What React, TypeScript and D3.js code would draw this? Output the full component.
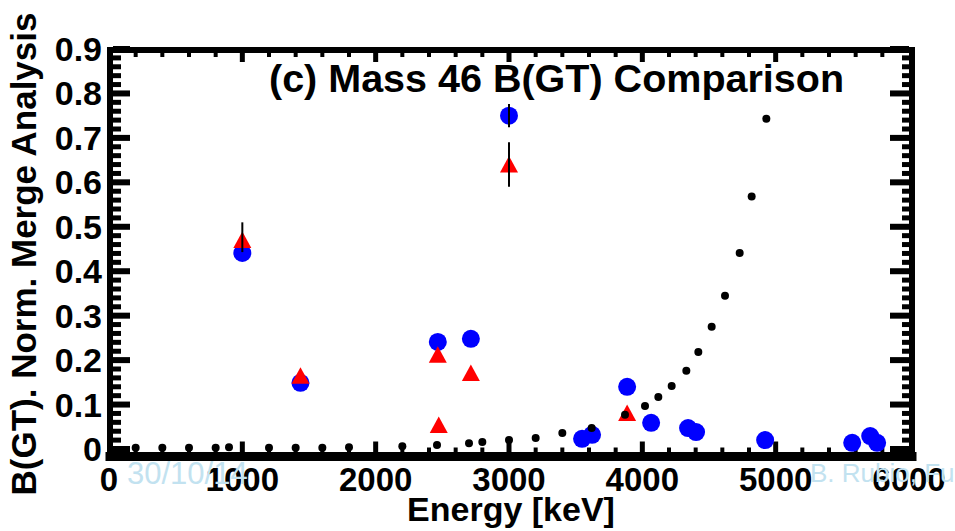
import React, { useEffect, useRef } from "react";
import * as d3 from "d3";

// merge analysis (blue circles)
const circleEnergy = [1000, 1436, 2466, 2714, 3000, 3548, 3623, 3886, 4066, 4343, 4403, 4921, 5574, 5709, 5761];
const circleBgt = [0.441, 0.149, 0.241, 0.248, 0.75, 0.023, 0.032, 0.14, 0.059, 0.047, 0.038, 0.02, 0.014, 0.029, 0.014];

// comparison set (red triangles)
const triEnergy = [1000, 1436, 2466, 2473, 2714, 3000, 3886];
const triBgt = [0.47, 0.165, 0.212, 0.054, 0.171, 0.64, 0.081];

// vertical error bars
const errEnergy = [1000, 3000, 3000];
const errLow = [0.443, 0.59, 0.724];
const errHigh = [0.51, 0.69, 0.776];

// small black dots
const dotEnergy = [200, 400, 600, 800, 900, 1200, 1400, 1600, 1800, 2200, 2460, 2700, 2800, 3000, 3200, 3400, 3620, 3870, 4020, 4120, 4220, 4330, 4420, 4520, 4620, 4730, 4820, 4930];
const dotBgt = [0.003, 0.003, 0.003, 0.003, 0.004, 0.003, 0.003, 0.003, 0.004, 0.006, 0.009, 0.013, 0.016, 0.02, 0.025, 0.036, 0.047, 0.077, 0.097, 0.117, 0.142, 0.176, 0.218, 0.275, 0.345, 0.441, 0.568, 0.743];

const xTickValues = [0, 1000, 2000, 3000, 4000, 5000, 6000];
const xTickLabels = ["0", "1000", "2000", "3000", "4000", "5000", "6000"];
const yTickValues = [0, 0.1, 0.2, 0.3, 0.4, 0.5, 0.6, 0.7, 0.8, 0.9];
const yTickLabels = ["0", "0.1", "0.2", "0.3", "0.4", "0.5", "0.6", "0.7", "0.8", "0.9"];

const title = "(c) Mass 46 B(GT) Comparison";
const xTitle = "Energy [keV]";
const yTitle = "B(GT). Norm. Merge Analysis";

const W = 955;
const H = 531;
const FONT = "'Liberation Sans', Arial, Helvetica, sans-serif";

export default function App() {
  const ref = useRef<SVGSVGElement>(null);

  useEffect(() => {
    const svg = d3.select(ref.current);
    svg.selectAll("*").remove();

    const x = d3.scaleLinear().domain([0, 6000]).range([109, 909]);
    const y = d3.scaleLinear().domain([0, 0.9]).range([449, 49]);

    const left = 110, right = 912, top = 50, bottom = 456.5;

    svg.append("rect").attr("width", W).attr("height", H).attr("fill", "#fff");

    // frame
    const frame = svg.append("g").attr("stroke", "#000").attr("stroke-linecap", "square");
    frame.append("line").attr("x1", left).attr("x2", left).attr("y1", top).attr("y2", bottom).attr("stroke-width", 6);
    frame.append("line").attr("x1", right).attr("x2", right).attr("y1", top).attr("y2", bottom).attr("stroke-width", 6);
    frame.append("line").attr("x1", left).attr("x2", right).attr("y1", top).attr("y2", top).attr("stroke-width", 6);
    frame.append("line").attr("x1", left).attr("x2", right).attr("y1", bottom).attr("y2", bottom).attr("stroke-width", 9);

    // x ticks, bottom and top
    const xMinor = d3.range(200, 6000, 200);
    xMinor.forEach((v) => {
      const major = v % 1000 === 0;
      frame.append("line").attr("x1", x(v)).attr("x2", x(v))
        .attr("y1", bottom - 4).attr("y2", major ? bottom - 15 : bottom - 9)
        .attr("stroke-width", major ? 5 : 4).attr("stroke-linecap", "butt");
      frame.append("line").attr("x1", x(v)).attr("x2", x(v))
        .attr("y1", top + 3).attr("y2", major ? top + 12 : top + 7)
        .attr("stroke-width", major ? 5 : 4).attr("stroke-linecap", "butt");
    });

    // y ticks, left and right
    const yMinor = d3.range(0, 46).map((i) => i * 0.02);
    yMinor.forEach((v, i) => {
      const major = i % 5 === 0;
      frame.append("line").attr("y1", y(v)).attr("y2", y(v))
        .attr("x1", left + 3).attr("x2", major ? left + 20 : left + 11)
        .attr("stroke-width", major ? 6 : 5).attr("stroke-linecap", "butt");
      frame.append("line").attr("y1", y(v)).attr("y2", y(v))
        .attr("x1", right - 3).attr("x2", major ? right - 22 : right - 10)
        .attr("stroke-width", major ? 6 : 5).attr("stroke-linecap", "butt");
    });

    // tick labels
    svg.append("g").selectAll("text").data(xTickValues).join("text")
      .attr("x", (d) => x(d)).attr("y", 491)
      .attr("text-anchor", "middle")
      .style("font-family", FONT).style("font-weight", "bold").style("font-size", "33px")
      .text((d, i) => xTickLabels[i]);
    svg.append("g").selectAll("text").data(yTickValues).join("text")
      .attr("x", 102).attr("y", (d) => y(d) + 12)
      .attr("text-anchor", "end")
      .style("font-family", FONT).style("font-weight", "bold").style("font-size", "34px")
      .text((d, i) => yTickLabels[i]);

    // axis titles
    svg.append("text").attr("x", 511).attr("y", 521).attr("text-anchor", "middle")
      .style("font-family", FONT).style("font-weight", "bold").style("font-size", "34px")
      .text(xTitle);
    svg.append("text").attr("transform", "translate(36,254) rotate(-90)").attr("text-anchor", "middle")
      .style("font-family", FONT).style("font-weight", "bold").style("font-size", "35px")
      .text(yTitle);

    // title inside the frame
    svg.append("text").attr("x", 269).attr("y", 92)
      .style("font-family", FONT).style("font-weight", "bold").style("font-size", "39.5px")
      .text(title);

    // blue circles
    svg.append("g").selectAll("circle").data(circleEnergy).join("circle")
      .attr("cx", (d) => x(d)).attr("cy", (d, i) => y(circleBgt[i]))
      .attr("r", 9).attr("fill", "#0000ff");

    // red triangles
    svg.append("g").selectAll("path").data(triEnergy).join("path")
      .attr("d", (d, i) => {
        const cx = x(d), cy = y(triBgt[i]);
        return `M${cx},${cy - 8.5}L${cx + 9},${cy + 8}L${cx - 9},${cy + 8}Z`;
      })
      .attr("fill", "#ff0000");

    // error bars
    svg.append("g").selectAll("line").data(errEnergy).join("line")
      .attr("x1", (d) => x(d)).attr("x2", (d) => x(d))
      .attr("y1", (d, i) => y(errLow[i])).attr("y2", (d, i) => y(errHigh[i]))
      .attr("stroke", "#000").attr("stroke-width", 2);

    // black dots
    svg.append("g").selectAll("circle").data(dotEnergy).join("circle")
      .attr("cx", (d) => x(d)).attr("cy", (d, i) => y(dotBgt[i]))
      .attr("r", 4).attr("fill", "#000");

    // slide footer watermarks
    svg.append("text").attr("x", 127).attr("y", 484)
      .style("font-family", FONT).style("font-size", "31px").style("fill", "#c2e2f0")
      .text("30/10/14");
    svg.append("text").attr("x", 810).attr("y", 482)
      .style("font-family", FONT).style("font-size", "26px").style("fill", "#c2e2f0")
      .text("B. Rubio, Fu");
  }, []);

  return (
    <svg ref={ref} width={W} height={H}
      style={{ position: "absolute", left: 0, top: 0, display: "block" }} />
  );
}
